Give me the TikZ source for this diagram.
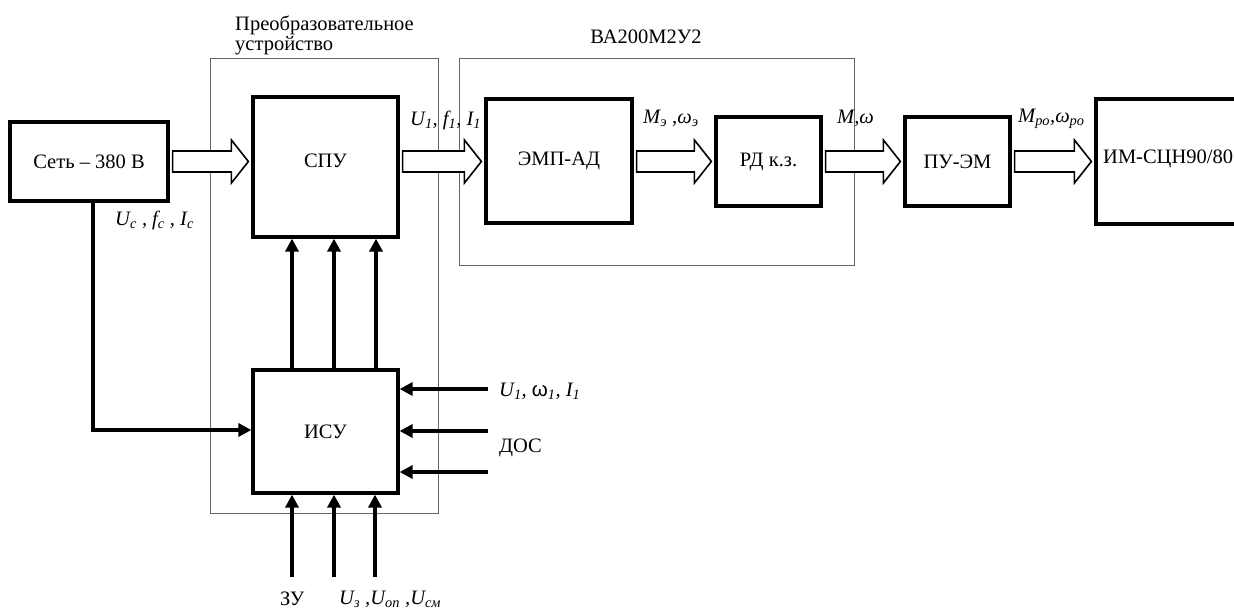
\documentclass[tikz,border=0pt]{standalone}
\usepackage{fontspec}
\setmainfont{Liberation Serif}
\newfontfamily\sansf{Liberation Sans}
\usetikzlibrary{arrows.meta,calc}
\newcommand\sbs[1]{\textsubscript{#1}}
\newcommand\harrow[2]{%
  \draw[hollow] let \p1=(#1.east), \p2=(#2.west) in
    (\x1+3pt,-151pt) -- (\x2-20pt,-151pt) -- (\x2-20pt,-140pt) -- (\x2-3pt,-161.5pt)
    -- (\x2-20pt,-183pt) -- (\x2-20pt,-172pt) -- (\x1+3pt,-172pt) -- cycle;}
\begin{document}
\begin{tikzpicture}[x=1pt,y=-1pt,
  font=\fontsize{20.5}{24}\selectfont,
  blk/.style={draw, line width=3.2pt, inner sep=0pt},
  grp/.style={draw=black!60, line width=1pt, inner sep=0pt},
  sig/.style={line width=3.2pt, -{Triangle[length=13pt,width=13pt]}},
  hollow/.style={draw, line width=1.6pt, line join=miter, fill=white},
  lbl/.style={inner sep=0pt, anchor=west}]
\useasboundingbox (0,0) rectangle (1234,613);
\clip (0,0) rectangle (1234,613);
% group frames
\node[grp, minimum width=228pt, minimum height=455pt] (pr) at (324,285.5) {};
\node[grp, minimum width=395pt, minimum height=207pt] (va) at (656.5,161.5) {};
% blocks
\node[blk, minimum width=158pt, minimum height=79pt] (set) at (89,161.5) {Сеть – 380 В};
\node[blk, minimum width=145pt, minimum height=140pt] (spu) at (325.5,167) {};
\node[inner sep=0pt] at (325.5,161) {СПУ};
\node[blk, minimum width=145pt, minimum height=123pt] (isu) at (325.5,431.5) {ИСУ};
\node[blk, minimum width=146pt, minimum height=124pt] (emp) at (559,161) {ЭМП-АД};
\node[blk, minimum width=105pt, minimum height=89pt] (rd) at (768.5,161.5) {РД к.з.};
\node[blk, minimum width=105pt, minimum height=89pt] (pu) at (957.5,161.5) {ПУ-ЭМ};
\node[blk, minimum width=146pt, minimum height=125pt] (im) at (1169,161.5) {};
\node[lbl] (imt) at (1103,159) {ИМ-СЦН90/80};
% hollow arrows
\harrow{set}{spu}
\harrow{spu}{emp}
\harrow{emp}{rd}
\harrow{rd}{pu}
\harrow{pu}{im}
% ISU -> SPU
\draw[sig] (isu.north -| 292,0) -- (spu.south -| 292,0);
\draw[sig] (isu.north -| 334,0) -- (spu.south -| 334,0);
\draw[sig] (isu.north -| 376,0) -- (spu.south -| 376,0);
% bottom inputs
\coordinate (z1) at (292,577);
\coordinate (z2) at (334,577);
\coordinate (z3) at (375,577);
\draw[sig] (z1) -- (z1 |- isu.south);
\draw[sig] (z2) -- (z2 |- isu.south);
\draw[sig] (z3) -- (z3 |- isu.south);
% right inputs
\coordinate (d1) at (488,389);
\coordinate (d2) at (488,431);
\coordinate (d3) at (488,472);
\draw[sig] (d1) -- (d1 -| isu.east);
\draw[sig] (d2) -- (d2 -| isu.east);
\draw[sig] (d3) -- (d3 -| isu.east);
% network feed
\coordinate (c1) at (93,430);
\draw[sig] (set.south -| c1) -- (c1) -- (c1 -| isu.west);
% labels
\node[lbl] at (235,25) {Преобразовательное};
\node[lbl] at (235,46) {устройство};
\node[inner sep=0pt] at (646,37) {ВА200М2У2};
\node[lbl] at (410,120) {\itshape U\sbs{1}, f\sbs{1}, I\sbs{1}};
\node[lbl] at (643,118) {\itshape M\sbs{э} ,ω\sbs{э}};
\node[lbl] at (837,118) {\itshape M,ω};
\node[lbl] at (1018,119) {\itshape M\sbs{ро},ω\sbs{ро}};
\node[lbl] at (115,220) {\itshape U\sbs{c} , f\sbs{c} , I\sbs{c}};
\node[lbl] at (499,391) {\itshape U\sbs{1}, {\upshape\sansf ω}\sbs{1}, I\sbs{1}};
\node[lbl] at (499,448) {ДОС};
\node[lbl] at (280,599) {ЗУ};
\node[lbl] at (339,599) {\itshape U\sbs{з} ,U\sbs{оп} ,U\sbs{см}};
\end{tikzpicture}
\end{document}
